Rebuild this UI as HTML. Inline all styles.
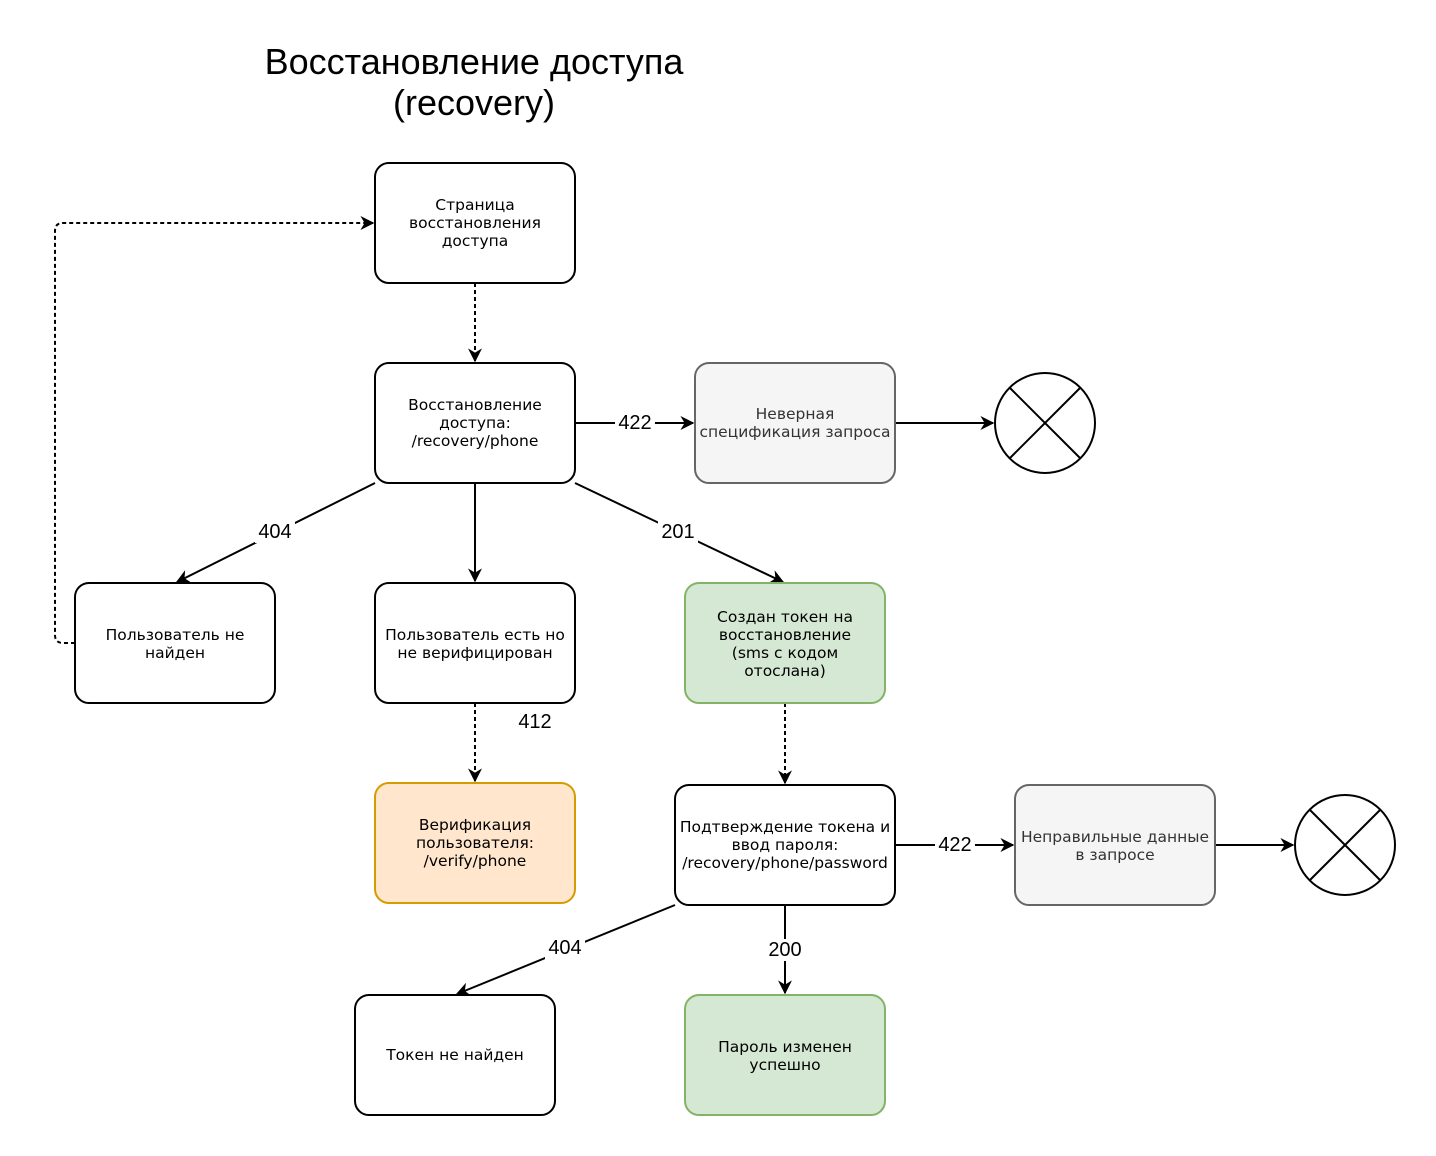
<!DOCTYPE html>
<html><head><meta charset="utf-8"><style>
html,body{margin:0;padding:0;background:#fff;}
svg{display:block;}
.n{font-family:"DejaVu Sans",sans-serif;font-size:15.5px;text-anchor:middle;fill:#000;}
.g{fill:#333;}
.l{font-family:"Liberation Sans",Arial,sans-serif;font-size:20px;text-anchor:middle;dominant-baseline:central;}
</style></head><body>
<svg width="1436" height="1156" viewBox="0 0 1436 1156" xmlns="http://www.w3.org/2000/svg">
<defs>
<marker id="a" viewBox="0 0 10 10" refX="9" refY="5" markerWidth="14" markerHeight="14" markerUnits="userSpaceOnUse" orient="auto">
<path d="M0,0 L10,5 L0,10 L3,5 Z" fill="#000"/></marker>
</defs>
<text x="474" y="74" font-family="Liberation Sans,Arial,sans-serif" font-size="36" text-anchor="middle">Восстановление доступа</text>
<text x="474" y="115" font-family="Liberation Sans,Arial,sans-serif" font-size="36" text-anchor="middle">(recovery)</text>
<g fill="none" stroke="#000" stroke-width="2">
<path d="M475,283 V361" stroke-dasharray="4,3" marker-end="url(#a)"/>
<path d="M575,423 H693" marker-end="url(#a)"/>
<path d="M895,423 H993" marker-end="url(#a)"/>
<path d="M375,483 L177,582" marker-end="url(#a)"/>
<path d="M475,483 V581" marker-end="url(#a)"/>
<path d="M575,483 L783,582" marker-end="url(#a)"/>
<path d="M75,643 H63 Q55,643 55,635 V231 Q55,223 63,223 H373" stroke-dasharray="4,3" marker-end="url(#a)"/>
<path d="M475,703 V781" stroke-dasharray="4,3" marker-end="url(#a)"/>
<path d="M785,703 V783" stroke-dasharray="4,3" marker-end="url(#a)"/>
<path d="M895,845 H1013" marker-end="url(#a)"/>
<path d="M1215,845 H1293" marker-end="url(#a)"/>
<path d="M675,905 L457,994" marker-end="url(#a)"/>
<path d="M785,905 V993" marker-end="url(#a)"/>
</g>
<g stroke-width="2">
<rect x="375" y="163" width="200" height="120" rx="14" fill="#fff" stroke="#000"/>
<rect x="375" y="363" width="200" height="120" rx="14" fill="#fff" stroke="#000"/>
<rect x="695" y="363" width="200" height="120" rx="14" fill="#f5f5f5" stroke="#666"/>
<rect x="75" y="583" width="200" height="120" rx="14" fill="#fff" stroke="#000"/>
<rect x="375" y="583" width="200" height="120" rx="14" fill="#fff" stroke="#000"/>
<rect x="685" y="583" width="200" height="120" rx="14" fill="#d5e8d4" stroke="#82b366"/>
<rect x="375" y="783" width="200" height="120" rx="14" fill="#ffe6cc" stroke="#d79b00"/>
<rect x="675" y="785" width="220" height="120" rx="14" fill="#fff" stroke="#000"/>
<rect x="1015" y="785" width="200" height="120" rx="14" fill="#f5f5f5" stroke="#666"/>
<rect x="355" y="995" width="200" height="120" rx="14" fill="#fff" stroke="#000"/>
<rect x="685" y="995" width="200" height="120" rx="14" fill="#d5e8d4" stroke="#82b366"/>
<circle cx="1045" cy="423" r="50" fill="#fff" stroke="#000"/>
<path d="M1010,388 L1080,458 M1080,388 L1010,458" stroke="#000"/>
<circle cx="1345" cy="845" r="50" fill="#fff" stroke="#000"/>
<path d="M1310,810 L1380,880 M1380,810 L1310,880" stroke="#000"/>
</g>
<g class="n">
<text x="475" y="210">Страница</text><text x="475" y="228">восстановления</text><text x="475" y="246">доступа</text>
<text x="475" y="410">Восстановление</text><text x="475" y="428">доступа:</text><text x="475" y="446">/recovery/phone</text>
<text x="795" y="419" class="n g">Неверная</text><text x="795" y="437" class="n g">спецификация запроса</text>
<text x="175" y="640">Пользователь не</text><text x="175" y="658">найден</text>
<text x="475" y="640">Пользователь есть но</text><text x="475" y="658">не верифицирован</text>
<text x="785" y="622">Создан токен на</text><text x="785" y="640">восстановление</text><text x="785" y="658">(sms с кодом</text><text x="785" y="676">отослана)</text>
<text x="475" y="830">Верификация</text><text x="475" y="848">пользователя:</text><text x="475" y="866">/verify/phone</text>
<text x="785" y="832">Подтверждение токена и</text><text x="785" y="850">ввод пароля:</text><text x="785" y="868">/recovery/phone/password</text>
<text x="1115" y="842" class="n g">Неправильные данные</text><text x="1115" y="860" class="n g">в запросе</text>
<text x="455" y="1060">Токен не найден</text>
<text x="785" y="1052">Пароль изменен</text><text x="785" y="1070">успешно</text>
</g>
<g class="l">
<rect x="615" y="412" width="40" height="22" fill="#fff"/><text x="635" y="423">422</text>
<rect x="255" y="521" width="40" height="22" fill="#fff"/><text x="275" y="532">404</text>
<rect x="658" y="521" width="40" height="22" fill="#fff"/><text x="678" y="532">201</text>
<text x="535" y="722">412</text>
<rect x="935" y="834" width="40" height="22" fill="#fff"/><text x="955" y="845">422</text>
<rect x="545" y="937" width="40" height="22" fill="#fff"/><text x="565" y="948">404</text>
<rect x="765" y="939" width="40" height="22" fill="#fff"/><text x="785" y="950">200</text>
</g>
</svg>
</body></html>
